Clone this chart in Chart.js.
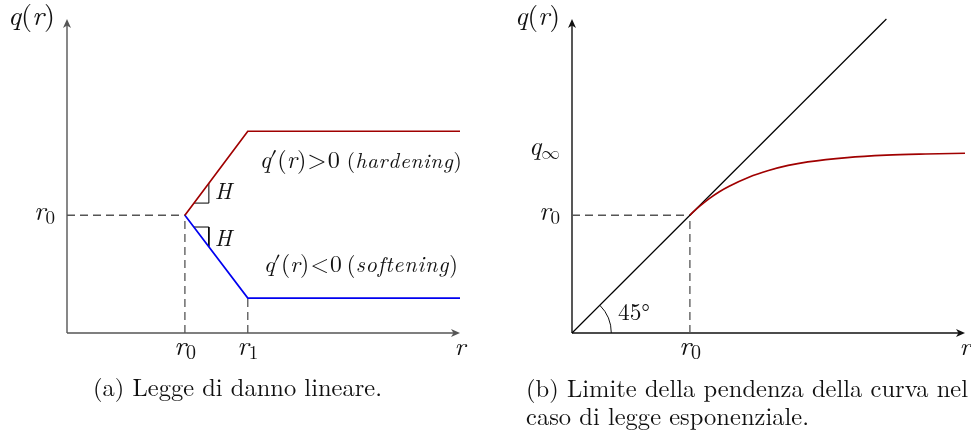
<!DOCTYPE html>
<html>
<head>
<meta charset="utf-8">
<script src="https://cdn.jsdelivr.net/npm/chart.js@4.4.1/dist/chart.umd.min.js"></script>
<style>
  html, body { margin: 0; padding: 0; background: #fff; }
  #wrap { position: relative; width: 971px; height: 432px; overflow: hidden; }
  .panel { position: absolute; top: 0; height: 432px; }
  #pa { left: 0; width: 485px; }
  #pb { left: 485px; width: 486px; }
</style>
</head>
<body>
<div id="wrap">
  <div class="panel" id="pa"><canvas id="ca"></canvas></div>
  <div class="panel" id="pb"><canvas id="cb"></canvas></div>
</div>
<script>
// ---- values (axis units) ----
const r0 = 3;          // damage threshold
const r1 = 4.6;        // end of the linear branch
const rMax = 10;       // extent of the r axis
const qMax = 8;        // extent of the q axis
const qInf = 4.6;      // asymptote of the exponential law

// (a) linear damage law
const hardR = [3, 4.6, 10];
const hardQ = [3, 5.14, 5.14];
const softR = [3, 4.6, 10];
const softQ = [3, 0.89, 0.89];
// slope triangles marking H
const slopeUpR = [3.23, 3.61, 3.61];
const slopeUpQ = [3.31, 3.31, 3.82];
const slopeDnR = [3.23, 3.61, 3.61];
const slopeDnQ = [2.70, 2.70, 2.20];

// (b) exponential law and the 45° bound
const diagR = [0, 8];
const diagQ = [0, 8];
const expR = [3, 3.1, 3.25, 3.5, 3.75, 4, 4.5, 5, 5.5, 6, 7, 8, 9, 10];
const expQ = [3, 3.097, 3.23, 3.43, 3.60, 3.74, 3.97, 4.14, 4.27, 4.36, 4.47, 4.53, 4.56, 4.58];

// ---- text helpers ----
const SERIF = '"Latin Modern Roman","Latin Modern Math","Liberation Serif",serif';
const MATHSYM = '"Latin Modern Math","Latin Modern Roman","DejaVu Serif",serif';
function setFont(ctx, r) { ctx.font = (r.i ? 'italic ' : '') + r.s + 'px ' + (r.f || SERIF); }
const I = (t, s, dy, k) => ({ t, i: true, s, dy: dy || 0, k: k || 0 });
const N = (t, s, dy, k) => ({ t, i: false, s, dy: dy || 0, k: k || 0 });
const SYM = (t, s, dy, k) => ({ t, i: false, s, dy: dy || 0, k: k || 0, f: MATHSYM });
// math-italic word: letters set apart like separate symbols
const mathWord = (w, s, k) => w.split('').map(ch => I(ch, s, 0, k));
function runsWidth(ctx, runs) {
  let w = 0;
  for (const r of runs) { setFont(ctx, r); w += ctx.measureText(r.t).width + r.k; }
  return w;
}
// draw a sequence of runs; with fitW the whole group is scaled about its baseline to that width
function drawRuns(ctx, runs, x, y, align, fitW, kFixed) {
  const nat = runsWidth(ctx, runs);
  const k = kFixed || (fitW ? fitW / nat : 1);
  const w = nat * k;
  const x0 = align === 'center' ? x - w / 2 : align === 'right' ? x - w : x;
  ctx.save();
  ctx.translate(x0, y);
  ctx.scale(k, k);
  ctx.fillStyle = '#111';
  ctx.textBaseline = 'alphabetic';
  ctx.textAlign = 'left';
  let cx = 0;
  for (const r of runs) {
    setFont(ctx, r);
    ctx.fillText(r.t, cx, r.dy);
    cx += ctx.measureText(r.t).width + r.k;
  }
  ctx.restore();
  return k;
}
function arrowAxes(ctx, chart, color) {
  const xs = chart.scales.x, ys = chart.scales.y;
  const ox = xs.getPixelForValue(0), oy = ys.getPixelForValue(0);
  const xe = xs.getPixelForValue(rMax), ye = ys.getPixelForValue(qMax);
  ctx.save();
  ctx.strokeStyle = color; ctx.fillStyle = color; ctx.lineWidth = 1.4;
  ctx.beginPath(); ctx.moveTo(ox, oy); ctx.lineTo(xe - 3, oy); ctx.stroke();
  ctx.beginPath(); ctx.moveTo(ox, oy); ctx.lineTo(ox, ye + 3); ctx.stroke();
  // stealth-style heads
  ctx.beginPath();
  ctx.moveTo(xe, oy); ctx.lineTo(xe - 9, oy - 4); ctx.lineTo(xe - 6.5, oy); ctx.lineTo(xe - 9, oy + 4); ctx.closePath(); ctx.fill();
  ctx.beginPath();
  ctx.moveTo(ox, ye); ctx.lineTo(ox - 4, ye + 9); ctx.lineTo(ox, ye + 6.5); ctx.lineTo(ox + 4, ye + 9); ctx.closePath(); ctx.fill();
  ctx.restore();
}
const pts = (xs, ys) => xs.map((v, k) => ({ x: v, y: ys[k] }));
const rSub = (d) => [I('r', 27), N(d, 19, 4)];
const qOfR = [I('q', 27), N('(', 27), I('r', 27), N(')', 27)];
const dq = (rel) => [I('q', 21, 0, -1), SYM('′', 21, 0, 0), N('(', 21), I('r', 21), N(')', 21, 0, 1), SYM(rel, 21, 0, 1), N('0', 21)];
const note = (w) => [N('(', 18, 0, 0.3), ...mathWord(w, 18, 0.6), N(')', 18)];

function baseOptions(pad) {
  return {
    responsive: true, maintainAspectRatio: false, animation: false, devicePixelRatio: 1,
    layout: { padding: pad },
    plugins: { legend: { display: false }, tooltip: { enabled: false } },
    scales: {
      x: { type: 'linear', min: 0, max: rMax, display: false },
      y: { type: 'linear', min: 0, max: qMax, display: false }
    },
    elements: { point: { radius: 0, hoverRadius: 0 }, line: { tension: 0 } },
    events: []
  };
}
const dashed = (data) => ({ data, borderColor: '#555', borderWidth: 1.3, borderDash: [8, 5], showLine: true, clip: false, order: 5 });
const solid = (data, color, w, order) => ({ data, borderColor: color, borderWidth: w, showLine: true, clip: false, order });

// ---- (a) linear law ----
const pluginA = {
  id: 'panelA',
  beforeDatasetsDraw(chart) { arrowAxes(chart.ctx, chart, '#555'); },
  afterDatasetsDraw(chart) {
    const ctx = chart.ctx, xs = chart.scales.x, ys = chart.scales.y;
    const ox = xs.getPixelForValue(0), oy = ys.getPixelForValue(0);
    const xr1 = xs.getPixelForValue(r1);
    drawRuns(ctx, qOfR, ox - 12, 25, 'right', 47);
    drawRuns(ctx, rSub('0'), ox - 12, ys.getPixelForValue(r0) + 5, 'right', 21);
    drawRuns(ctx, rSub('0'), xs.getPixelForValue(r0), oy + 22, 'center', 22);
    drawRuns(ctx, rSub('1'), xr1, oy + 22, 'center', 21);
    drawRuns(ctx, [I('r', 27)], xs.getPixelForValue(rMax), oy + 22, 'center', 11);
    const yh = ys.getPixelForValue(hardQ[1]) + 37;
    drawRuns(ctx, dq('>'), xr1 + 12, yh, 'left', 80);
    drawRuns(ctx, note('hardening'), xr1 + 99, yh, 'left', 115);
    const ys2 = ys.getPixelForValue(softQ[1]) - 26;
    drawRuns(ctx, dq('<'), xr1 + 16, ys2, 'left', 78);
    drawRuns(ctx, note('softening'), xr1 + 99, ys2, 'left', 111);
    drawRuns(ctx, [I('H', 20)], xs.getPixelForValue(slopeUpR[1]) + 6, ys.getPixelForValue(slopeUpQ[0]) - 4, 'left', 17);
    drawRuns(ctx, [I('H', 20)], xs.getPixelForValue(slopeDnR[1]) + 6, ys.getPixelForValue(slopeDnQ[0]) + 19, 'left', 17);
    drawRuns(ctx, [N('(a) Legge di danno lineare.', 20)], 237.5, 396, 'center', 289);
  }
};

// ---- (b) exponential law ----
const pluginB = {
  id: 'panelB',
  beforeDatasetsDraw(chart) { arrowAxes(chart.ctx, chart, '#111'); },
  afterDatasetsDraw(chart) {
    const ctx = chart.ctx, xs = chart.scales.x, ys = chart.scales.y;
    const ox = xs.getPixelForValue(0), oy = ys.getPixelForValue(0);
    // 45° arc
    const rad = xs.getPixelForValue(1) - ox;
    ctx.save(); ctx.strokeStyle = '#111'; ctx.lineWidth = 1;
    ctx.beginPath(); ctx.arc(ox, oy, rad, -Math.PI / 4, 0); ctx.stroke(); ctx.restore();
    drawRuns(ctx, qOfR, ox - 12, 25, 'right', 45);
    drawRuns(ctx, [I('q', 27), SYM('∞', 19, 4)], ox - 12, ys.getPixelForValue(qInf) + 3, 'right', 31);
    drawRuns(ctx, rSub('0'), ox - 12, ys.getPixelForValue(r0) + 5, 'right', 21);
    drawRuns(ctx, rSub('0'), xs.getPixelForValue(r0), oy + 22, 'center', 22);
    drawRuns(ctx, [I('r', 27)], xs.getPixelForValue(rMax), oy + 22, 'center', 11);
    drawRuns(ctx, [N('45', 20), SYM('°', 20)], ox + 46, oy - 13, 'left', 32);
    const k = drawRuns(ctx, [N('(b) Limite della pendenza della curva nel', 20)], 41, 397, 'left', 442);
    drawRuns(ctx, [N('caso di legge esponenziale.', 20)], 41, 425, 'left', null, k);
  }
};

function build() {
  new Chart(document.getElementById('ca'), {
    type: 'scatter',
    data: {
      datasets: [
        dashed(pts([0, r0], [r0, r0])),
        dashed(pts([r0, r0], [0, r0])),
        dashed(pts([r1, r1], [0, softQ[1]])),
        solid(pts(slopeUpR, slopeUpQ), '#000', 1, 3),
        solid(pts(slopeDnR, slopeDnQ), '#000', 1, 3),
        solid(pts(softR, softQ), '#0000f0', 1.7, 1),
        solid(pts(hardR, hardQ), '#a00000', 1.7, 0)
      ]
    },
    options: baseOptions({ left: 67, right: 25, top: 19, bottom: 99 }),
    plugins: [pluginA]
  });
  new Chart(document.getElementById('cb'), {
    type: 'scatter',
    data: {
      datasets: [
        dashed(pts([0, r0], [r0, r0])),
        dashed(pts([r0, r0], [0, r0])),
        solid(pts(diagR, diagQ), '#000', 1.2, 2),
        Object.assign(solid(pts(expR, expQ), '#a00000', 1.7, 0), { cubicInterpolationMode: 'monotone' })
      ]
    },
    options: baseOptions({ left: 87, right: 6, top: 19, bottom: 99 }),
    plugins: [pluginB]
  });
}

// make sure the serif faces are ready before the canvases paint text
const faces = ['20px "Latin Modern Roman"', 'italic 20px "Latin Modern Roman"', '20px "Latin Modern Math"'];
Promise.all(faces.map(f => document.fonts.load(f).catch(() => null)))
  .then(build, build);
</script>
</body>
</html>
